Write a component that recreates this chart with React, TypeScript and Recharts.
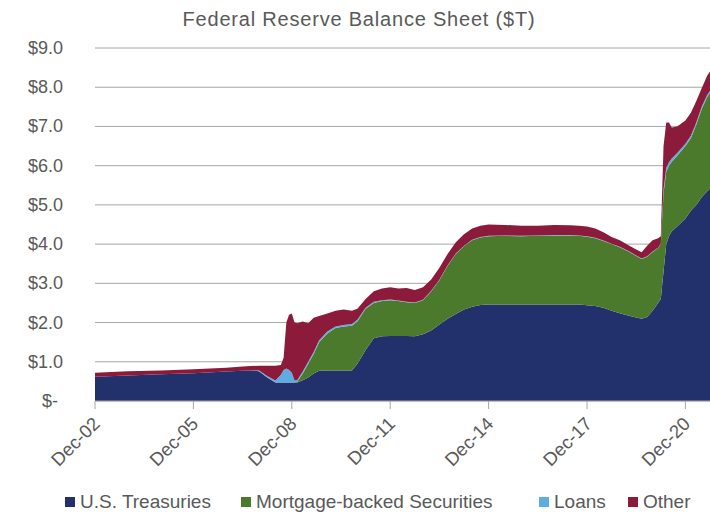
import React from "react";
import { AreaChart, Area, XAxis, YAxis, CartesianGrid } from "recharts";

// months since Dec-2002
const months = [0, 12, 24, 36, 48, 54, 57, 60, 63, 66, 68, 69, 70, 71, 72, 73, 74, 76, 78, 80, 82, 85, 88, 91, 94, 96, 99, 102, 105, 108, 111, 114, 117, 120, 123, 126, 129, 132, 135, 138, 141, 144, 150, 156, 162, 168, 174, 177, 180, 183, 186, 189, 192, 195, 198, 200, 202, 204, 206, 207, 208, 209, 210, 211, 213, 216, 218, 220, 222, 224, 225];
const treasuries = [0.62, 0.65, 0.68, 0.71, 0.75, 0.77, 0.78, 0.76, 0.60, 0.47, 0.47, 0.47, 0.47, 0.47, 0.47, 0.47, 0.47, 0.53, 0.60, 0.70, 0.77, 0.78, 0.78, 0.78, 0.78, 0.95, 1.30, 1.60, 1.65, 1.66, 1.66, 1.66, 1.65, 1.70, 1.80, 1.95, 2.10, 2.22, 2.33, 2.40, 2.45, 2.46, 2.46, 2.46, 2.46, 2.46, 2.46, 2.46, 2.44, 2.42, 2.38, 2.30, 2.24, 2.18, 2.13, 2.10, 2.14, 2.30, 2.50, 2.60, 3.30, 4.00, 4.20, 4.33, 4.45, 4.65, 4.85, 5.00, 5.20, 5.35, 5.42];
const mbs = [0, 0, 0, 0, 0, 0, 0, 0, 0, 0, 0, 0, 0, 0, 0, 0, 0.02, 0.17, 0.35, 0.50, 0.73, 0.94, 1.08, 1.12, 1.14, 1.08, 1.05, 0.90, 0.90, 0.91, 0.89, 0.86, 0.85, 0.87, 1.00, 1.13, 1.35, 1.53, 1.62, 1.70, 1.72, 1.74, 1.75, 1.74, 1.75, 1.76, 1.76, 1.75, 1.75, 1.73, 1.70, 1.70, 1.68, 1.64, 1.57, 1.52, 1.54, 1.50, 1.40, 1.40, 2.00, 1.85, 1.80, 1.77, 1.80, 1.85, 1.85, 2.05, 2.25, 2.40, 2.43];
const loans = [0, 0, 0, 0, 0, 0, 0, 0.02, 0.04, 0.05, 0.20, 0.32, 0.36, 0.32, 0.25, 0.05, 0.04, 0.05, 0.05, 0.05, 0.05, 0.05, 0.04, 0.04, 0.04, 0.04, 0.03, 0.03, 0.02, 0.02, 0.01, 0.01, 0.01, 0.01, 0.01, 0.01, 0.01, 0.01, 0.01, 0.01, 0.01, 0.01, 0.01, 0.01, 0.01, 0.01, 0.01, 0.01, 0.01, 0.01, 0.01, 0.01, 0.01, 0.01, 0.01, 0.01, 0.01, 0.01, 0.01, 0.01, 0.10, 0.10, 0.09, 0.08, 0.07, 0.06, 0.06, 0.06, 0.06, 0.06, 0.06];
const other = [0.10, 0.11, 0.10, 0.10, 0.10, 0.11, 0.11, 0.12, 0.26, 0.38, 0.25, 0.31, 1.17, 1.41, 1.51, 1.48, 1.45, 1.28, 0.98, 0.87, 0.62, 0.46, 0.40, 0.39, 0.34, 0.28, 0.22, 0.27, 0.30, 0.31, 0.31, 0.35, 0.32, 0.32, 0.29, 0.31, 0.29, 0.29, 0.29, 0.29, 0.29, 0.29, 0.27, 0.26, 0.25, 0.26, 0.25, 0.25, 0.25, 0.24, 0.21, 0.17, 0.17, 0.15, 0.15, 0.16, 0.27, 0.29, 0.24, 0.19, 1.10, 1.15, 1.01, 0.79, 0.68, 0.59, 0.59, 0.54, 0.47, 0.49, 0.49];

const xTicks = [0, 36, 72, 108, 144, 180, 216];
const xTickLabels = ["Dec-02", "Dec-05", "Dec-08", "Dec-11", "Dec-14", "Dec-17", "Dec-20"];
const yTicks = [0, 1, 2, 3, 4, 5, 6, 7, 8, 9];

const seriesNames = ["U.S. Treasuries", "Mortgage-backed Securities", "Loans", "Other"];
const seriesColors = ["#22316b", "#4c7a2d", "#5dade2", "#8c1a3a"];

const data = months.map((m, i) => ({
  m,
  treasuries: treasuries[i],
  mbs: mbs[i],
  loans: loans[i],
  other: other[i],
}));

const FONT = '"Liberation Sans", Arial, sans-serif';
const GRAY = "#595959";

const YTick = (props: any) => {
  const { y, payload } = props;
  const v = payload.value;
  const label = v === 0 ? "$-" : `$${v.toFixed(1)}`;
  return (
    <text x={v === 0 ? 58 : 63} y={y} dy={6} textAnchor="end" fontSize={18} fill={GRAY} fontFamily={FONT}>
      {label}
    </text>
  );
};

const XTick = (props: any) => {
  const { x, y, payload } = props;
  const idx = xTicks.indexOf(payload.value);
  const label = idx >= 0 ? xTickLabels[idx] : "";
  return (
    <g transform={`translate(${x + 6},${y + 14})`}>
      <text x={0} y={0} textAnchor="end" transform="rotate(-45)" fontSize={18.5} fill={GRAY} fontFamily={FONT}>
        {label}
      </text>
    </g>
  );
};

const keys = ["treasuries", "mbs", "loans", "other"];
const legendSquareX = [65, 241, 539, 628];

export default function App() {
  return (
    <div style={{ position: "absolute", left: 0, top: 0, width: 710, height: 512, fontFamily: FONT, background: "#fff", overflow: "hidden" }}>
      <div style={{ position: "absolute", left: 0, width: 718, top: 8, textAlign: "center", fontSize: 20, letterSpacing: 0.8, color: GRAY }}>
        Federal Reserve Balance Sheet ($T)
      </div>
      <AreaChart width={710} height={512} data={data} margin={{ top: 48, right: 0, bottom: 0, left: 0 }}>
        <CartesianGrid vertical={false} stroke="#a6a6a6" />
        <XAxis
          dataKey="m"
          type="number"
          domain={[0, 225]}
          ticks={xTicks}
          interval={0}
          height={111}
          axisLine={{ stroke: "#a6a6a6" }}
          tickLine={{ stroke: "#a6a6a6" }}
          tickSize={8}
          tick={<XTick />}
        />
        <YAxis
          type="number"
          domain={[0, 9]}
          ticks={yTicks}
          interval={0}
          width={95}
          axisLine={false}
          tickLine={false}
          tick={<YTick />}
        />
        {keys.map((k, i) => (
          <Area
            key={k}
            dataKey={k}
            name={seriesNames[i]}
            stackId="1"
            type="linear"
            fill={seriesColors[i]}
            fillOpacity={1}
            stroke="none"
            dot={false}
            activeDot={false}
            isAnimationActive={false}
          />
        ))}
      </AreaChart>
      {seriesNames.map((n, i) => (
        <div key={n} style={{ position: "absolute", left: legendSquareX[i], top: 492, height: 20, display: "flex", alignItems: "center", whiteSpace: "nowrap" }}>
          <span style={{ display: "inline-block", width: 10, height: 10, background: seriesColors[i], marginRight: 5 }} />
          <span style={{ fontSize: 19, color: GRAY, lineHeight: "20px" }}>{n}</span>
        </div>
      ))}
    </div>
  );
}
